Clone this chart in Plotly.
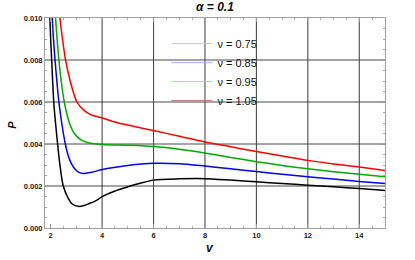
import plotly.graph_objects as go

# ---- data ----
V_075 = [1.97, 2.0, 2.04, 2.12, 2.19, 2.27, 2.36, 2.49, 2.69, 2.85, 3.08, 3.3, 3.47, 3.73, 4.0, 4.5, 5.0, 5.5, 6.0, 7.0, 8.0, 9.0, 10, 11, 12, 13, 14, 15]
P_075 = [0.0100, 0.0090, 0.0080, 0.0060, 0.0050, 0.0040, 0.0030, 0.0020, 0.00140, 0.00113, 0.00103, 0.00107, 0.00115, 0.00128, 0.00149, 0.00176, 0.00196, 0.00214, 0.00228, 0.00234, 0.00235, 0.00228, 0.00220, 0.00212, 0.00204, 0.00196, 0.00188, 0.00178]

V_085 = [2.06, 2.11, 2.17, 2.24, 2.32, 2.43, 2.57, 2.67, 2.79, 2.95, 3.1, 3.27, 3.6, 4.0, 4.5, 5, 6, 7, 8, 9, 10, 11, 12, 13, 14, 15]
P_085 = [0.0100, 0.0090, 0.0080, 0.0070, 0.0060, 0.0050, 0.0040, 0.0035, 0.0031, 0.0028, 0.00265, 0.00260, 0.00265, 0.00279, 0.00289, 0.00298, 0.00308, 0.00306, 0.00295, 0.00282, 0.00269, 0.00256, 0.00244, 0.00233, 0.00222, 0.00212]

V_095 = [2.19, 2.25, 2.32, 2.41, 2.53, 2.73, 2.92, 3.18, 3.5, 4.0, 5, 6, 7, 8, 9, 10, 11, 12, 13, 14, 15]
P_095 = [0.0100, 0.0090, 0.0080, 0.0070, 0.0060, 0.0050, 0.0045, 0.0042, 0.00405, 0.00398, 0.00394, 0.00388, 0.00375, 0.00357, 0.00336, 0.00316, 0.00298, 0.00282, 0.00268, 0.00256, 0.00244]

V_105 = [2.36, 2.46, 2.58, 2.76, 3.02, 3.3, 3.55, 3.75, 4.0, 4.5, 5, 6, 7, 8, 9, 10, 11, 12, 13, 14, 15]
P_105 = [0.0100, 0.0090, 0.0080, 0.0070, 0.0060, 0.0056, 0.0054, 0.00532, 0.00524, 0.00505, 0.00490, 0.00464, 0.00437, 0.00410, 0.00387, 0.00364, 0.00343, 0.00322, 0.00305, 0.00290, 0.00274]

SERIES_NAMES = ["ν = 0.75", "ν = 0.85", "ν = 0.95", "ν = 1.05"]
X_TICKS = [2, 4, 6, 8, 10, 12, 14]
Y_TICKS = [0.000, 0.002, 0.004, 0.006, 0.008, 0.010]
GRID_X = [4, 6, 8, 10, 12, 14]
GRID_Y = [0.002, 0.004, 0.006, 0.008]

LINE_COLORS = ["#000000", "#0000ee", "#00a800", "#ff0000"]
LEGEND_COLORS = ["#c8c8c8", "#a8a8f0", "#98e098", "#c87070"]

FONT = "Liberation Sans"

fig = go.Figure()
for xs, ys, c in zip([V_075, V_085, V_095, V_105], [P_075, P_085, P_095, P_105], LINE_COLORS):
    fig.add_trace(go.Scatter(x=xs, y=ys, mode="lines", line=dict(color=c, width=1.5, shape="spline", smoothing=0.8),
                             showlegend=False, hoverinfo="skip", cliponaxis=True))
for name, c in zip(SERIES_NAMES, LEGEND_COLORS):
    fig.add_trace(go.Scatter(x=[None], y=[None], mode="lines", name=name, line=dict(color=c, width=1)))

for gx in GRID_X:
    fig.add_shape(type="line", xref="x", yref="paper", x0=gx, x1=gx, y0=0, y1=1,
                  line=dict(color="#4a4a4a", width=1.1), layer="below")
for gy in GRID_Y:
    fig.add_shape(type="line", xref="paper", yref="y", x0=0, x1=1, y0=gy, y1=gy,
                  line=dict(color="#4a4a4a", width=1.1), layer="below")

axis_common = dict(ticks="inside", ticklen=4, tickcolor="#999999", showline=True, linecolor="#a0a0a0",
                   linewidth=1, mirror="allticks", showgrid=False, zeroline=False,
                   tickfont=dict(family=FONT, size=7.5, color="#222222", weight="bold"))
fig.update_xaxes(range=[1.78, 15], tickvals=X_TICKS, ticktext=[str(v) for v in X_TICKS],
                 minor=dict(ticks="inside", ticklen=2, dtick=0.5, tick0=0, tickcolor="#aaaaaa", showgrid=False),
                 **axis_common)
fig.update_yaxes(range=[0, 0.010], tickvals=Y_TICKS, ticktext=[f"{v:.3f}" for v in Y_TICKS],
                 minor=dict(ticks="inside", ticklen=2, dtick=0.0005, tick0=0, tickcolor="#aaaaaa", showgrid=False),
                 **axis_common)

fig.update_layout(
    width=415, height=260,
    margin=dict(l=45, r=30, t=18, b=32),
    paper_bgcolor="white", plot_bgcolor="white",
    title=dict(text="<b><i>α = 0.1</i></b>", x=0.518, xanchor="center", y=0.972, yanchor="middle",
               font=dict(family=FONT, size=12, color="#111111")),
    legend=dict(x=0.357, y=0.947, xanchor="left", yanchor="top", bgcolor="rgba(0,0,0,0)",
                itemwidth=41,
                font=dict(family=FONT, size=11, color="#111111"), tracegroupgap=0),
    annotations=[
        dict(text="<b><i>v</i></b>", xref="paper", yref="paper", x=0.485, y=-0.094, showarrow=False,
             font=dict(family=FONT, size=12, color="#111111"), xanchor="center", yanchor="middle"),
        dict(text="<b><i>P</i></b>", xref="paper", yref="paper", x=-0.097, y=0.492, showarrow=False,
             textangle=-90, font=dict(family=FONT, size=11, color="#111111"), xanchor="center", yanchor="middle"),
    ],
)

fig.write_html("out.html", config={"displayModeBar": False},
               post_script="document.body.style.margin='0px';")
